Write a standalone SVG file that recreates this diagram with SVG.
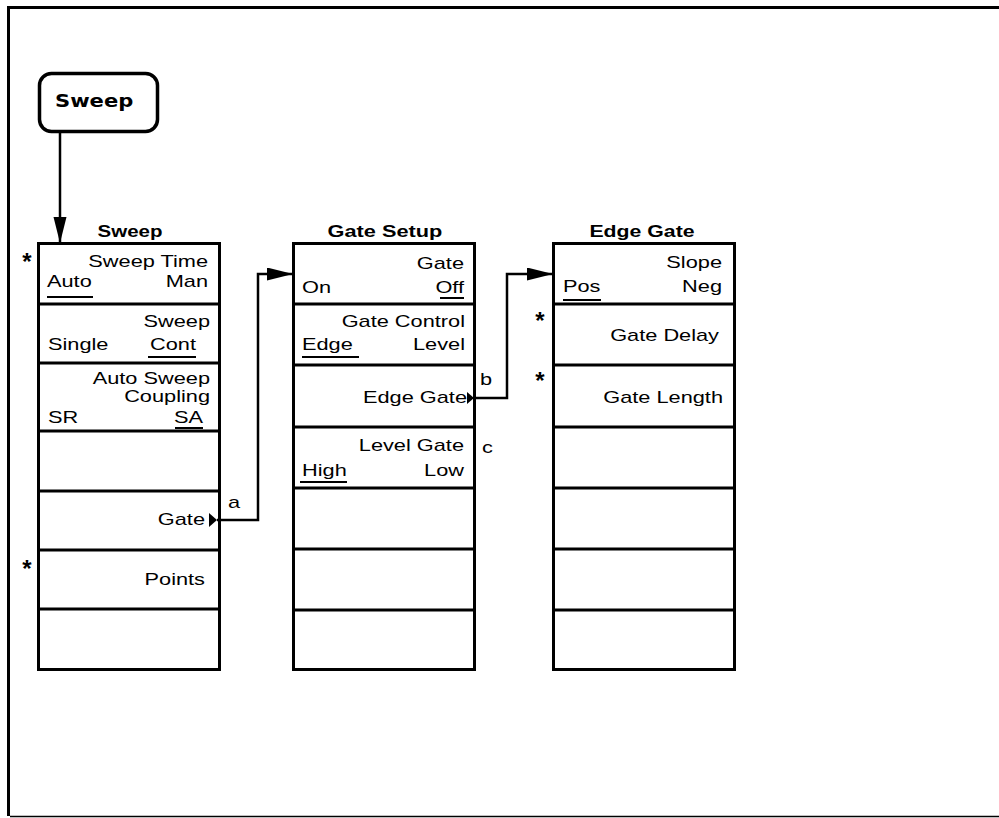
<svg xmlns="http://www.w3.org/2000/svg" width="999" height="818" viewBox="0 0 999 818">
<style>
.t{font-family:"Liberation Sans",Arial,sans-serif;font-size:17px;fill:#000}
.e{text-anchor:end}
.h{font-family:"Liberation Sans",Arial,sans-serif;font-size:16px;font-weight:bold;text-anchor:middle;fill:#000}
.k{font-family:"DejaVu Sans",sans-serif;font-size:17px;font-weight:bold;fill:#000}
.s{font-family:"Liberation Sans",Arial,sans-serif;font-size:24px;font-weight:bold;text-anchor:middle;fill:#000}
.box{fill:#fff;stroke:#000;stroke-width:3}
.row{stroke:#000;stroke-width:3}
.ul{stroke:#000;stroke-width:2}
.cn{fill:none;stroke:#000;stroke-width:2.5}
</style>
<defs>
<marker id="ah" markerUnits="userSpaceOnUse" markerWidth="27" markerHeight="14" refX="26" refY="6.5" orient="auto">
<path d="M0,0 L26,6.5 L0,13 z" fill="#000"/>
</marker>
</defs>
<rect width="999" height="818" fill="#fff"/>
<g id="frame">
<path d="M8.5,816 V7.5 H999" fill="none" stroke="#000" stroke-width="3"/>
<line x1="10" y1="816.5" x2="999" y2="816.5" stroke="#000" stroke-width="1.5"/>
</g>
<g id="key-sweep">
<rect x="39.5" y="73.5" width="118" height="58" rx="12" fill="#fff" stroke="#000" stroke-width="3.5"/>
<text class="k" transform="translate(55 107) scale(1.24 1)">Sweep</text>
</g>
<g id="menu-sweep">
<text class="h" transform="translate(130 237) scale(1.28 1)">Sweep</text>
<rect class="box" x="38.5" y="243.5" width="181" height="426"/>
<line class="row" x1="38" y1="304" x2="220" y2="304"/>
<line class="row" x1="38" y1="363" x2="220" y2="363"/>
<line class="row" x1="38" y1="431" x2="220" y2="431"/>
<line class="row" x1="38" y1="491" x2="220" y2="491"/>
<line class="row" x1="38" y1="550" x2="220" y2="550"/>
<line class="row" x1="38" y1="609" x2="220" y2="609"/>
<text class="s" x="27" y="270">*</text>
<text class="t e" transform="translate(208 267) scale(1.28 1)">Sweep Time</text>
<text class="t" transform="translate(47 287) scale(1.28 1)">Auto</text>
<line class="ul" x1="47" y1="297" x2="93" y2="297"/>
<text class="t e" transform="translate(208 287) scale(1.28 1)">Man</text>
<text class="t e" transform="translate(210 327) scale(1.28 1)">Sweep</text>
<text class="t" transform="translate(48 350) scale(1.28 1)">Single</text>
<text class="t e" transform="translate(196 350) scale(1.28 1)">Cont</text>
<line class="ul" x1="148" y1="357" x2="196" y2="357"/>
<text class="t e" transform="translate(210 384) scale(1.28 1)">Auto Sweep</text>
<text class="t e" transform="translate(210 402) scale(1.28 1)">Coupling</text>
<text class="t" transform="translate(48 423) scale(1.28 1)">SR</text>
<text class="t e" transform="translate(203 423) scale(1.28 1)">SA</text>
<line class="ul" x1="175" y1="428" x2="203" y2="428"/>
<text class="t e" transform="translate(205 525) scale(1.28 1)">Gate</text>
<polygon points="209,513 217,520 209,527" fill="#000"/>
<text class="s" x="27" y="577">*</text>
<text class="t e" transform="translate(205 585) scale(1.28 1)">Points</text>
</g>
<g id="menu-gate-setup">
<text class="h" transform="translate(385 237) scale(1.36 1)">Gate Setup</text>
<rect class="box" x="293.5" y="243.5" width="181" height="426"/>
<line class="row" x1="293" y1="304" x2="475" y2="304"/>
<line class="row" x1="293" y1="365" x2="475" y2="365"/>
<line class="row" x1="293" y1="427" x2="475" y2="427"/>
<line class="row" x1="293" y1="488" x2="475" y2="488"/>
<line class="row" x1="293" y1="549" x2="475" y2="549"/>
<line class="row" x1="293" y1="610" x2="475" y2="610"/>
<text class="t e" transform="translate(464 269) scale(1.28 1)">Gate</text>
<text class="t" transform="translate(302 293) scale(1.28 1)">On</text>
<text class="t e" transform="translate(464 293) scale(1.28 1)">Off</text>
<line class="ul" x1="440" y1="298" x2="464" y2="298"/>
<text class="t e" transform="translate(465 327) scale(1.28 1)">Gate Control</text>
<text class="t" transform="translate(302 350) scale(1.28 1)">Edge</text>
<line class="ul" x1="302" y1="357" x2="359" y2="357"/>
<text class="t e" transform="translate(465 350) scale(1.28 1)">Level</text>
<text class="t e" transform="translate(467 403) scale(1.28 1)">Edge Gate</text>
<polygon points="467,392 474,398 467,404" fill="#000"/>
<text class="t e" transform="translate(464 451) scale(1.28 1)">Level Gate</text>
<text class="t" transform="translate(302 476) scale(1.28 1)">High</text>
<line class="ul" x1="300" y1="482" x2="347" y2="482"/>
<text class="t e" transform="translate(464 476) scale(1.28 1)">Low</text>
</g>
<g id="menu-edge-gate">
<text class="h" transform="translate(642 237) scale(1.33 1)">Edge Gate</text>
<rect class="box" x="553.5" y="243.5" width="181" height="426"/>
<line class="row" x1="553" y1="304" x2="735" y2="304"/>
<line class="row" x1="553" y1="365" x2="735" y2="365"/>
<line class="row" x1="553" y1="427" x2="735" y2="427"/>
<line class="row" x1="553" y1="488" x2="735" y2="488"/>
<line class="row" x1="553" y1="549" x2="735" y2="549"/>
<line class="row" x1="553" y1="610" x2="735" y2="610"/>
<text class="t e" transform="translate(722 268) scale(1.28 1)">Slope</text>
<text class="t" transform="translate(563 292) scale(1.28 1)">Pos</text>
<line class="ul" x1="563" y1="300" x2="601" y2="300"/>
<text class="t e" transform="translate(722 292) scale(1.28 1)">Neg</text>
<text class="s" x="540" y="329">*</text>
<text class="t e" transform="translate(719 341) scale(1.28 1)">Gate Delay</text>
<text class="s" x="540" y="389">*</text>
<text class="t e" transform="translate(723 403) scale(1.28 1)">Gate Length</text>
</g>
<g id="connectors">
<path class="cn" d="M60,132 V243" marker-end="url(#ah)"/>
<path class="cn" d="M217,520 H258 V274 H293" marker-end="url(#ah)"/>
<path class="cn" d="M474,398 H507 V274 H553" marker-end="url(#ah)"/>
<text class="t" transform="translate(228 508) scale(1.28 1)">a</text>
<text class="t" transform="translate(480 385) scale(1.28 1)">b</text>
<text class="t" transform="translate(482 453) scale(1.28 1)">c</text>
</g>
</svg>
